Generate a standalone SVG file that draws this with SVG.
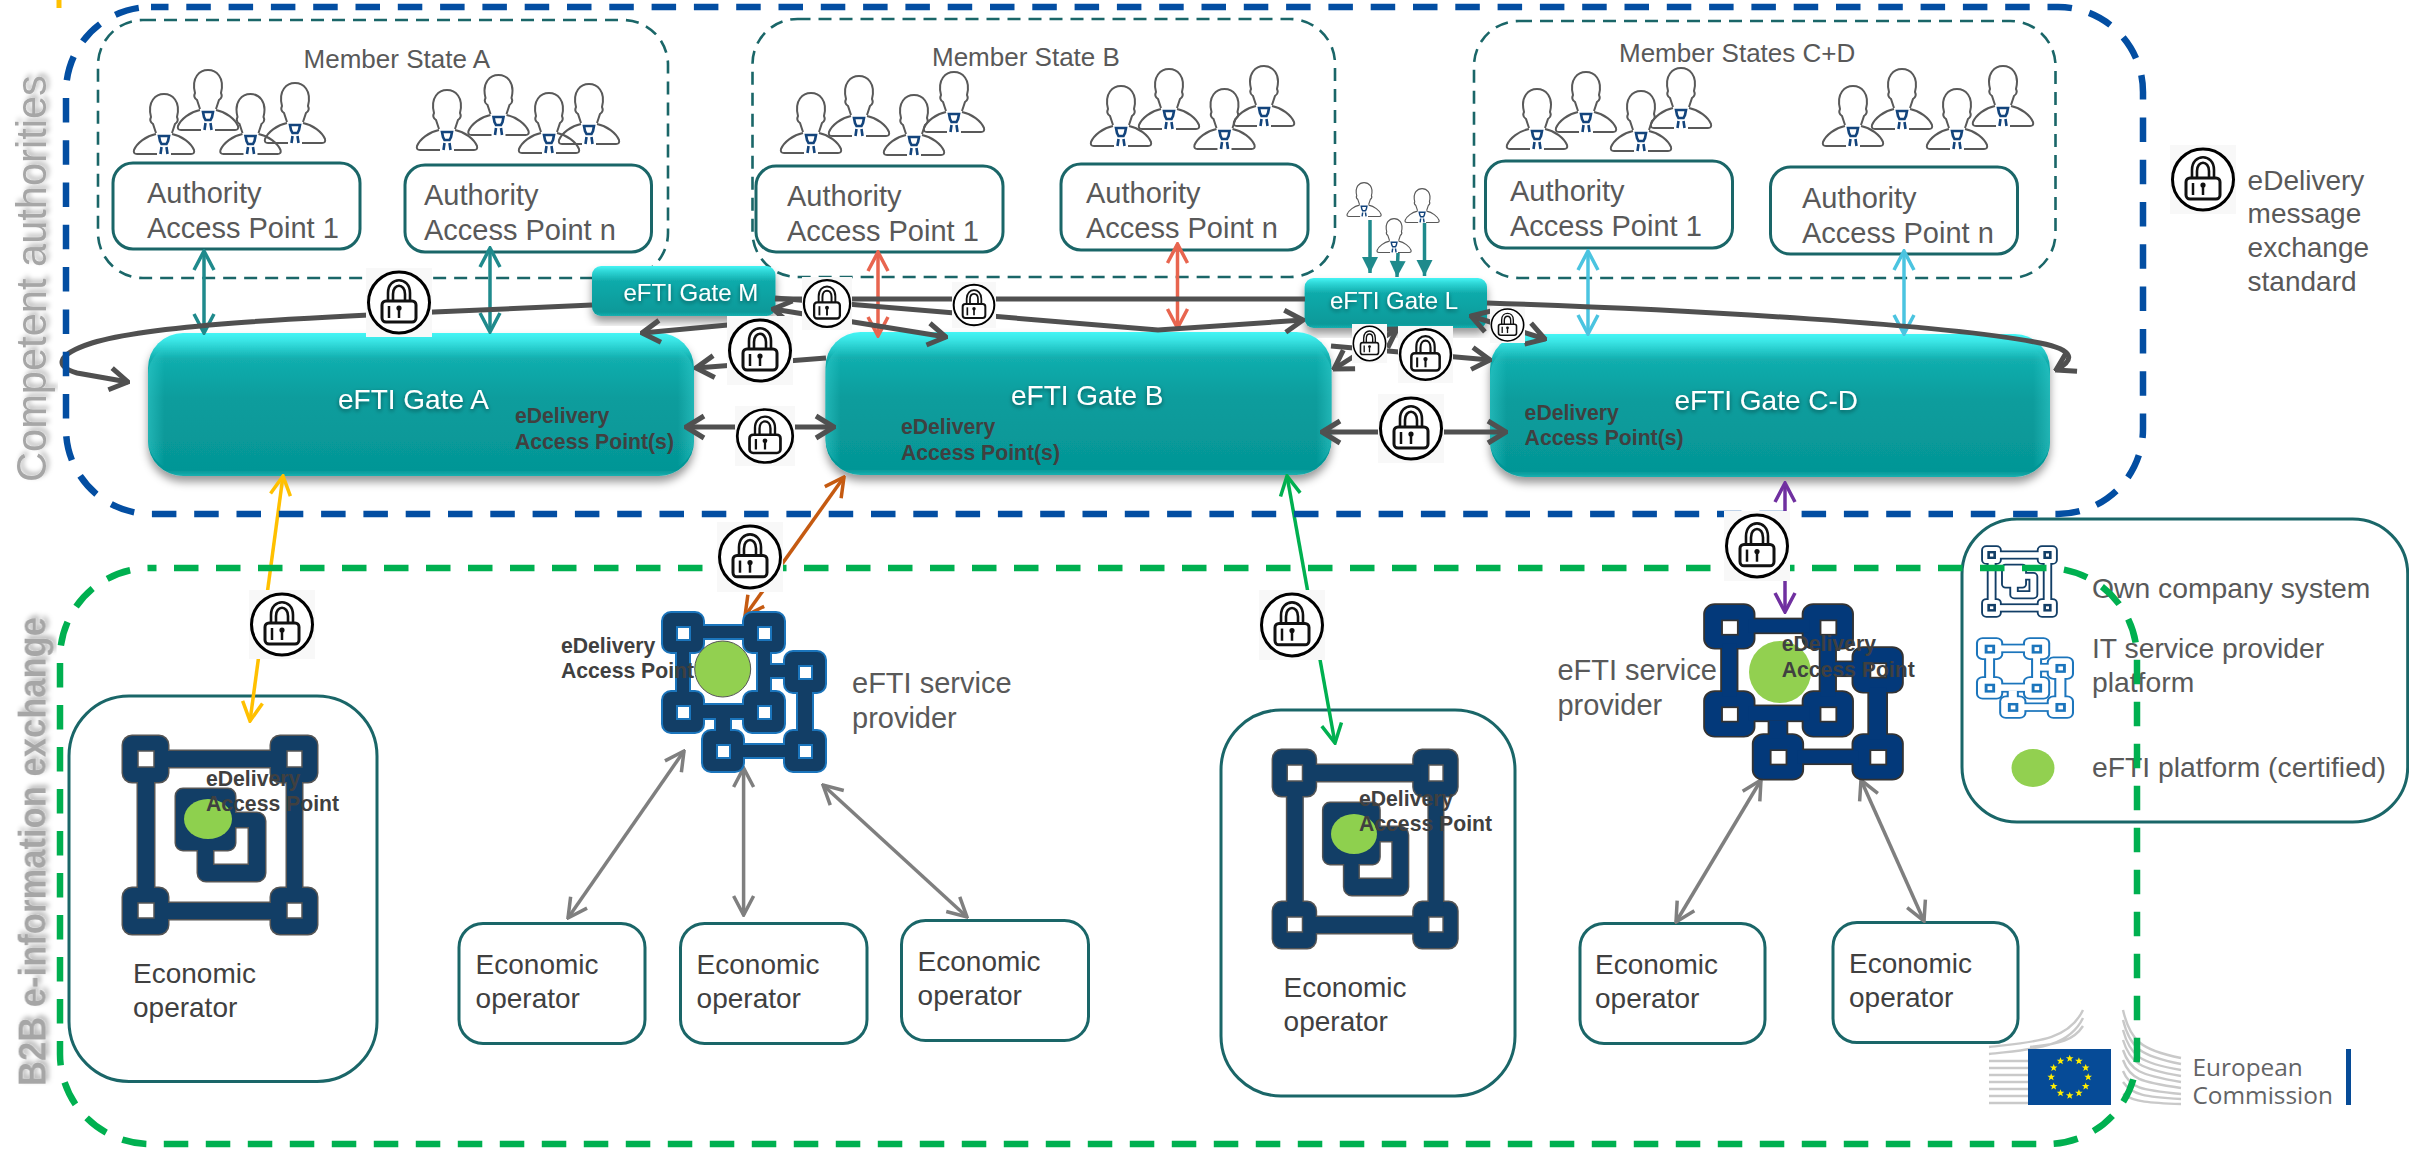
<svg xmlns="http://www.w3.org/2000/svg" xmlns:xlink="http://www.w3.org/1999/xlink" width="2409" height="1149" viewBox="0 0 2409 1149">
<style>
text{font-family:"Liberation Sans",Arial,sans-serif}
.t29{font-size:29px;fill:#595959}
.t28{font-size:28px;fill:#404040}
.t26{font-size:26px;fill:#595959}
.gl{font-size:28px;fill:#fff;filter:url(#ts)}
.gs{font-size:24px;fill:#fff;filter:url(#ts)}
.ap{font-size:21.2px;font-weight:bold;fill:#404040}
.ms{fill:none;stroke:#1a6668;stroke-width:2.6;stroke-dasharray:13 8}
.box{fill:#fff;stroke:#1a6668;stroke-width:3}
.bx0{fill:none;stroke:#1a6668;stroke-width:3}
.gate{fill:url(#gb);filter:url(#ds)}
.gsm{fill:url(#gn);filter:url(#ds)}
.side{fill:url(#gside)}
.c{fill:none}
.dk{stroke:#505050;stroke-width:5;marker-end:url(#mD)}
.dk2{stroke:#505050;stroke-width:5;marker-start:url(#mD);marker-end:url(#mD)}
.dk0{stroke:#505050;stroke-width:5}
.te{stroke:#1f8a8c;stroke-width:3.5;marker-start:url(#mT);marker-end:url(#mT)}
.re{stroke:#e8654f;stroke-width:3.5;marker-start:url(#mR);marker-end:url(#mR)}
.lb{stroke:#4bc4e0;stroke-width:3.5;marker-start:url(#mL);marker-end:url(#mL)}
.gr{stroke:#7f7f7f;stroke-width:3.5;marker-start:url(#mG);marker-end:url(#mG)}
.tf{stroke:#1f8a8c;stroke-width:3.5;marker-end:url(#mF)}
.s{fill:var(--o);stroke:var(--o);stroke-width:var(--w)}
.f{fill:var(--f);stroke:none}
.h{fill:#fff;stroke:var(--hc);stroke-width:var(--hw)}
.navy{--o:#555;--f:#123e66;--w:3;--hc:#555;--hw:1.5}
.prov{--o:#1b75bc;--f:#123e66;--w:4;--hc:#1b75bc;--hw:2}
.prov2{--o:#333;--f:#03397a;--w:3;--hc:#333;--hw:1.5}
.lgo{--o:#123e66;--f:#fff;--w:10;--hc:#123e66;--hw:7}
.lgp{--o:#1b75bc;--f:#fff;--w:7;--hc:#1b75bc;--hw:5}
.wing{fill:none;stroke:#c9c9c9;stroke-width:2.4}
</style>
<defs>
<linearGradient id="gb" x1="0" y1="0" x2="0" y2="1"><stop offset="0" stop-color="#45f5f5"/><stop offset=".05" stop-color="#3ae6e6"/><stop offset=".18" stop-color="#12aeae"/><stop offset=".45" stop-color="#0a9d9d"/><stop offset=".96" stop-color="#059696"/><stop offset="1" stop-color="#18b0b0"/></linearGradient>
<linearGradient id="gn" x1="0" y1="0" x2="0" y2="1"><stop offset="0" stop-color="#45f5f5"/><stop offset=".1" stop-color="#30d8d8"/><stop offset=".3" stop-color="#10abab"/><stop offset=".92" stop-color="#079999"/><stop offset="1" stop-color="#18b0b0"/></linearGradient>
<linearGradient id="gside" x1="0" y1="0" x2="1" y2="0"><stop offset="0" stop-color="#35cfcf" stop-opacity=".5"/><stop offset=".03" stop-color="#35cfcf" stop-opacity="0"/><stop offset=".97" stop-color="#35cfcf" stop-opacity="0"/><stop offset="1" stop-color="#35cfcf" stop-opacity=".5"/></linearGradient>
<filter id="ds" x="-5%" y="-10%" width="110%" height="130%"><feDropShadow dx="0" dy="6" stdDeviation="4" flood-color="#000" flood-opacity=".4"/></filter>
<filter id="ts" x="-10%" y="-30%" width="120%" height="170%"><feDropShadow dx="0" dy="2" stdDeviation="2" flood-color="#000" flood-opacity=".45"/></filter>
<filter id="gs" x="-5%" y="-5%" width="115%" height="110%"><feDropShadow dx="3" dy="3" stdDeviation="2.5" flood-color="#000" flood-opacity=".3"/></filter>
<marker id="mD" viewBox="-24 -14 26 28" refX="0" refY="0" markerWidth="26" markerHeight="28" markerUnits="userSpaceOnUse" orient="auto-start-reverse"><path d="M-18 -11L0 0L-18 11" fill="none" stroke="#505050" stroke-width="5"/></marker>
<marker id="mT" viewBox="-24 -14 26 28" refX="0" refY="0" markerWidth="26" markerHeight="28" markerUnits="userSpaceOnUse" orient="auto-start-reverse"><path d="M-19 -10L0 0L-19 10" fill="none" stroke="#1f8a8c" stroke-width="3.5"/></marker>
<marker id="mR" viewBox="-24 -14 26 28" refX="0" refY="0" markerWidth="26" markerHeight="28" markerUnits="userSpaceOnUse" orient="auto-start-reverse"><path d="M-19 -10L0 0L-19 10" fill="none" stroke="#e8654f" stroke-width="3.5"/></marker>
<marker id="mL" viewBox="-24 -14 26 28" refX="0" refY="0" markerWidth="26" markerHeight="28" markerUnits="userSpaceOnUse" orient="auto-start-reverse"><path d="M-19 -10L0 0L-19 10" fill="none" stroke="#4bc4e0" stroke-width="3.5"/></marker>
<marker id="mG" viewBox="-24 -14 26 28" refX="0" refY="0" markerWidth="26" markerHeight="28" markerUnits="userSpaceOnUse" orient="auto-start-reverse"><path d="M-19 -10L0 0L-19 10" fill="none" stroke="#7f7f7f" stroke-width="3.5"/></marker>
<marker id="mY" viewBox="-24 -14 26 28" refX="0" refY="0" markerWidth="26" markerHeight="28" markerUnits="userSpaceOnUse" orient="auto-start-reverse"><path d="M-19 -10L0 0L-19 10" fill="none" stroke="#ffc000" stroke-width="3.5"/></marker>
<marker id="mO" viewBox="-24 -14 26 28" refX="0" refY="0" markerWidth="26" markerHeight="28" markerUnits="userSpaceOnUse" orient="auto-start-reverse"><path d="M-19 -10L0 0L-19 10" fill="none" stroke="#c55a11" stroke-width="3.5"/></marker>
<marker id="mN" viewBox="-24 -14 26 28" refX="0" refY="0" markerWidth="26" markerHeight="28" markerUnits="userSpaceOnUse" orient="auto-start-reverse"><path d="M-19 -10L0 0L-19 10" fill="none" stroke="#00b050" stroke-width="3.5"/></marker>
<marker id="mP" viewBox="-24 -14 26 28" refX="0" refY="0" markerWidth="26" markerHeight="28" markerUnits="userSpaceOnUse" orient="auto-start-reverse"><path d="M-19 -10L0 0L-19 10" fill="none" stroke="#7030a0" stroke-width="3.5"/></marker>
<marker id="mF" viewBox="-18 -9 19 18" refX="0" refY="0" markerWidth="19" markerHeight="18" markerUnits="userSpaceOnUse" orient="auto"><path d="M-16 -8L0 0L-16 8Z" fill="#1f8a8c"/></marker>
<symbol id="lock" viewBox="0 0 66 69" preserveAspectRatio="none" overflow="visible">
<rect width="66" height="69" fill="#f8f8f8"/>
<ellipse cx="33" cy="34.5" rx="30.5" ry="30.5" fill="#fff" stroke="#000" stroke-width="3"/>
<path d="M22 33V25C22 8 44 8 44 25V33M27 33V26C27 15 39 15 39 26V33" fill="none" stroke="#111" stroke-width="2.6"/>
<rect x="16" y="33" width="34" height="21" rx="4" fill="#fff" stroke="#111" stroke-width="3"/>
<path d="M23 38V50" stroke="#111" stroke-width="2.5"/><circle cx="33" cy="40" r="2.6" fill="#111"/><path d="M33 40V50" stroke="#111" stroke-width="2.5"/>
</symbol>
<symbol id="person" viewBox="0 0 64 63" width="64" height="63" overflow="visible">
<path d="M24 40L21 31C18 29 18 26 19 24C15 8 24 1 32 1C40 1 49 8 45 24C46 26 46 29 43 31L40 40M24 41C14 43 5 50 2 57Q1 61 5 61L25 61M39 61L59 61Q63 61 62 57C59 50 50 43 40 41" fill="none" stroke="#595959" stroke-width="2"/>
<path d="M27 43H37L36 48L34.5 51H29.5L28 48ZM29.5 54L28.5 61M34.5 54L35.5 61" fill="none" stroke="#13447c" stroke-width="2.6"/>
</symbol>
<g id="own-b">
<rect x="0" y="0" width="45" height="46" rx="9"/><rect x="148" y="0" width="46" height="46" rx="9"/><rect x="0" y="152" width="45" height="46" rx="9"/><rect x="148" y="152" width="46" height="46" rx="9"/>
<rect x="40" y="15" width="115" height="16"/><rect x="40" y="167" width="115" height="16"/><rect x="15" y="40" width="16" height="118"/><rect x="164" y="40" width="15" height="118"/>
<path fill-rule="evenodd" d="M83 77H134A8 8 0 0 1 142 85V137A8 8 0 0 1 134 145H83A8 8 0 0 1 75 137V85A8 8 0 0 1 83 77ZM90 91V129H126V91Z"/>
<rect x="53" y="53" width="59" height="61" rx="7"/>
</g>
<g id="own-h"><rect x="15" y="15" width="16" height="16"/><rect x="164" y="15" width="15" height="16"/><rect x="15" y="167" width="16" height="15"/><rect x="164" y="167" width="15" height="15"/></g>
<g id="own"><use href="#own-b" class="s"/><use href="#own-b" class="f"/><use href="#own-h" class="h"/></g>
<g id="prov-b">
<rect x="0" y="0" width="40" height="39" rx="8"/><rect x="81" y="0" width="40" height="39" rx="8"/><rect x="0" y="79" width="40" height="40" rx="8"/><rect x="81" y="79" width="40" height="40" rx="8"/><rect x="122" y="39" width="40" height="40" rx="8"/><rect x="40" y="118" width="40" height="40" rx="8"/><rect x="122" y="118" width="40" height="40" rx="8"/>
<rect x="36" y="13" width="50" height="12"/><rect x="14" y="35" width="12" height="48"/><rect x="95" y="35" width="12" height="48"/><rect x="36" y="92" width="50" height="13"/><rect x="105" y="52" width="20" height="12"/><rect x="135" y="75" width="14" height="47"/><rect x="53" y="105" width="14" height="16"/><rect x="76" y="132" width="50" height="12"/>
</g>
<g id="prov-h"><rect x="14" y="14" width="13" height="13"/><rect x="95" y="14" width="13" height="13"/><rect x="14" y="93" width="13" height="13"/><rect x="95" y="93" width="13" height="13"/><rect x="136" y="53" width="13" height="13"/><rect x="54" y="132" width="13" height="13"/><rect x="136" y="132" width="13" height="13"/></g>
<g id="provider"><use href="#prov-b" class="s"/><use href="#prov-b" class="f"/><use href="#prov-h" class="h"/></g>
<polygon id="star" points="0,-3.8 1,-1.2 3.8,-1.2 1.6,0.5 2.4,3.3 0,1.7 -2.4,3.3 -1.6,0.5 -3.8,-1.2 -1,-1.2" fill="#ffed00"/>
</defs>

<rect width="2409" height="1149" fill="#fff"/>
<path d="M59 0V8" stroke="#ffc000" stroke-width="5"/>

<text transform="translate(46 482) rotate(-90)" font-size="41.6" fill="#a6a6a6" filter="url(#gs)">Competent authorities</text>
<text transform="translate(45.6 1086) rotate(-90)" font-size="38" font-weight="bold" fill="#a6a6a6" filter="url(#gs)" textLength="469" lengthAdjust="spacingAndGlyphs">B2B e-information exchange</text>

<g id="member-state-a">
<rect class="ms" x="98" y="20" width="570" height="258" rx="45"/>
<text class="t26" x="303.6" y="68">Member State A</text>
<use href="#person" x="132" y="93"/><use href="#person" x="176" y="69"/><use href="#person" x="218.5" y="93"/><use href="#person" x="263" y="82"/>
<use href="#person" x="415" y="89"/><use href="#person" x="466.5" y="74"/><use href="#person" x="517" y="92"/><use href="#person" x="557" y="83"/>
</g>
<g id="member-state-b">
<rect class="ms" x="752.5" y="19" width="582.5" height="258" rx="45"/>
<text class="t26" x="932" y="66">Member State B</text>
<use href="#person" x="779" y="92"/><use href="#person" x="827" y="75"/><use href="#person" x="882" y="94"/><use href="#person" x="922" y="71"/>
<use href="#person" x="1089" y="85"/><use href="#person" x="1137" y="68"/><use href="#person" x="1192.5" y="88"/><use href="#person" x="1232" y="65"/>
</g>
<g id="member-states-cd">
<rect class="ms" x="1474" y="21" width="581.5" height="257" rx="45"/>
<text class="t26" x="1619" y="62">Member States C+D</text>
<use href="#person" x="1505" y="88"/><use href="#person" x="1554" y="71"/><use href="#person" x="1609" y="90"/><use href="#person" x="1649" y="67"/>
<use href="#person" x="1821" y="85"/><use href="#person" x="1870" y="68"/><use href="#person" x="1925" y="88"/><use href="#person" x="1971" y="65"/>
</g>
<g id="ap-a1"><rect class="box" x="113" y="163" width="247" height="86" rx="20"/><text class="t29" x="147" y="203">Authority</text><text class="t29" x="147" y="238">Access Point 1</text></g>
<g id="ap-an"><rect class="box" x="405" y="165" width="246.5" height="87" rx="20"/><text class="t29" x="424" y="205">Authority</text><text class="t29" x="424" y="240">Access Point n</text></g>
<g id="ap-b1"><rect class="box" x="756" y="166" width="247" height="86" rx="20"/><text class="t29" x="787" y="206">Authority</text><text class="t29" x="787" y="241">Access Point 1</text></g>
<g id="ap-bn"><rect class="box" x="1061" y="164" width="247" height="86" rx="20"/><text class="t29" x="1086" y="203">Authority</text><text class="t29" x="1086" y="238">Access Point n</text></g>
<g id="ap-c1"><rect class="box" x="1485.5" y="161" width="247" height="87" rx="20"/><text class="t29" x="1510" y="201">Authority</text><text class="t29" x="1510" y="236">Access Point 1</text></g>
<g id="ap-cn"><rect class="box" x="1770.5" y="167" width="247" height="87" rx="20"/><text class="t29" x="1802" y="208">Authority</text><text class="t29" x="1802" y="243">Access Point n</text></g>

<g id="gate-m"><rect class="gsm" x="592" y="266" width="183.5" height="50" rx="9"/></g>
<g id="gate-l"><rect class="gsm" x="1304.6" y="278" width="182.4" height="50" rx="9"/></g>
<g id="gate-a"><rect class="gate" x="148" y="333" width="546" height="143" rx="35"/><rect class="side" x="148" y="345" width="546" height="125" rx="30"/></g>
<g id="gate-b"><rect class="gate" x="825.5" y="332" width="506" height="143" rx="35"/><rect class="side" x="825.5" y="344" width="506" height="125" rx="30"/></g>
<g id="gate-cd"><rect class="gate" x="1490" y="334" width="560" height="143" rx="35"/><rect class="side" x="1490" y="346" width="560" height="125" rx="30"/></g>

<g id="small-persons">
<use href="#person" transform="translate(1346 182) scale(.565)"/>
<use href="#person" transform="translate(1376 218) scale(.565)"/>
<use href="#person" transform="translate(1404 188) scale(.565)"/>
</g>

<g id="own-system-1"><rect class="bx0" x="69" y="696" width="308" height="385.5" rx="60"/>
<use href="#own" class="navy" transform="translate(123 736)"/><ellipse cx="208" cy="819" rx="24" ry="20" fill="#8ed04e"/>
<text class="t28" x="133" y="983">Economic</text><text class="t28" x="133" y="1016.5">operator</text></g>
<g id="own-system-2"><rect class="bx0" x="1221" y="710" width="294" height="386" rx="60"/>
<use href="#own" class="navy" transform="translate(1273 750) scale(.95 1)"/><ellipse cx="1354" cy="834" rx="23" ry="20" fill="#8ed04e"/>
<text class="t28" x="1283.6" y="997">Economic</text><text class="t28" x="1283.6" y="1031">operator</text></g>
<g id="eo-1"><rect class="bx0" x="459" y="923.4" width="186" height="120" rx="24"/><text class="t28" x="475.6" y="974">Economic</text><text class="t28" x="475.6" y="1008">operator</text></g>
<g id="eo-2"><rect class="bx0" x="680.5" y="923.4" width="186.5" height="120" rx="24"/><text class="t28" x="696.6" y="974">Economic</text><text class="t28" x="696.6" y="1008">operator</text></g>
<g id="eo-3"><rect class="bx0" x="901.5" y="920.5" width="187" height="120" rx="24"/><text class="t28" x="917.6" y="971">Economic</text><text class="t28" x="917.6" y="1005">operator</text></g>
<g id="eo-4"><rect class="bx0" x="1580" y="923.4" width="185" height="120" rx="24"/><text class="t28" x="1595" y="974">Economic</text><text class="t28" x="1595" y="1008">operator</text></g>
<g id="eo-5"><rect class="bx0" x="1833" y="922.6" width="185" height="120" rx="24"/><text class="t28" x="1849" y="973">Economic</text><text class="t28" x="1849" y="1007">operator</text></g>

<g id="logo">
<path class="wing" d="M1989 1047C2030 1042 2068 1042 2083 1010M1989 1054C2030 1049 2068 1049 2083 1018M1989 1061H2030M1989 1068H2030M1989 1075H2030M1989 1082H2030M1989 1089H2030M1989 1096H2030M1989 1103H2030M2030 1047C2060 1044 2074 1040 2083 1026"/>
<path class="wing" d="M2123 1010C2130 1040 2140 1050 2181 1058M2123 1020C2130 1048 2140 1056 2181 1064M2123 1030C2130 1056 2140 1063 2181 1070M2123 1040C2130 1063 2140 1069 2181 1076M2123 1050C2130 1071 2140 1075 2181 1082M2123 1060C2130 1079 2140 1082 2181 1088M2123 1071C2130 1088 2140 1090 2181 1094M2123 1082C2132 1095 2145 1097 2181 1099M2123 1094C2134 1102 2150 1103 2181 1104"/>
<rect x="2028" y="1049" width="83" height="56" fill="#064b97"/>
<g transform="translate(2069.7 1077)">
<use href="#star" x="0" y="-18.5"/><use href="#star" x="9.2" y="-16"/><use href="#star" x="16" y="-9.2"/><use href="#star" x="18.5" y="0"/><use href="#star" x="16" y="9.2"/><use href="#star" x="9.2" y="16"/><use href="#star" x="0" y="18.5"/><use href="#star" x="-9.2" y="16"/><use href="#star" x="-16" y="9.2"/><use href="#star" x="-18.5" y="0"/><use href="#star" x="-16" y="-9.2"/><use href="#star" x="-9.2" y="-16"/>
</g>
<text x="2192.5" y="1075.7" font-size="24.4" fill="#636466" style="font-family:'Open Sans',sans-serif">European</text>
<text x="2192.5" y="1104" font-size="24.4" fill="#636466" style="font-family:'Open Sans',sans-serif">Commission</text>
<rect x="2346" y="1049" width="5" height="56" fill="#064b97"/>
</g>

<g id="connectors" class="c">
<path class="te" d="M204 251V333"/>
<path class="te" d="M490 248V332"/>
<path class="re" d="M878 252V336"/>
<path class="re" d="M1177.5 244V328"/>
<path class="lb" d="M1588 251V334"/>
<path class="lb" d="M1904 251V334"/>
<path class="tf" d="M1370 220V273"/>
<path class="tf" d="M1398 253L1397 277"/>
<path class="tf" d="M1424.5 223V276"/>
<path class="dk" d="M592 305L434 312C300 318 150 325 92 343C55 355 55 367 77 373L128 382"/>
<path class="dk0" d="M775 299H1305"/>
<path class="dk" d="M775 298L1158 330L1303 320"/>
<path class="dk2" d="M773 309L946 337"/>
<path class="dk" d="M760 322L642 333"/>
<path class="dk" d="M826 358L696 368"/>
<path class="dk2" d="M686 427H834"/>
<path class="dk" d="M1331 346L1490 360"/>
<path class="dk2" d="M1334 369L1397 329"/>
<path class="dk2" d="M1322 432H1506"/>
<path class="dk2" d="M1471 316L1545 339"/>
<path class="dk" d="M1487 303C1700 310 1950 325 2040 343C2075 350 2075 360 2056 370"/>
<path stroke="#ffc000" stroke-width="3.5" marker-start="url(#mY)" marker-end="url(#mY)" d="M283 476L250 721"/>
<path stroke="#c55a11" stroke-width="3.5" marker-start="url(#mO)" marker-end="url(#mO)" d="M844 477L745 616"/>
<path stroke="#00b050" stroke-width="3.5" marker-start="url(#mN)" marker-end="url(#mN)" d="M1287 476L1335 743"/>
<path stroke="#7030a0" stroke-width="3.5" marker-start="url(#mP)" marker-end="url(#mP)" d="M1785 483V612"/>
<path class="gr" d="M684 751L568 918"/>
<path class="gr" d="M743.6 768V915"/>
<path class="gr" d="M823 785L967 917"/>
<path class="gr" d="M1761 780L1676 922"/>
<path class="gr" d="M1861 780L1924 921"/>
</g>

<g id="service-provider-1">
<use href="#provider" class="prov" transform="translate(663 613)"/>
<ellipse cx="722.7" cy="669" rx="28" ry="28" fill="#92d050" stroke="#555" stroke-width="1"/>
<text class="t29" x="852" y="692.5">eFTI service</text><text class="t29" x="852" y="727.6">provider</text>
</g>
<g id="service-provider-2">
<use href="#provider" class="prov2" transform="translate(1705 605) scale(1.216 1.1)"/>
<ellipse cx="1780" cy="672" rx="31" ry="31" fill="#92d050"/>
<text class="t29" x="1557.4" y="680">eFTI service</text><text class="t29" x="1557.4" y="715">provider</text>
</g>

<g id="legend">
<rect class="bx0" x="1962" y="519" width="445.7" height="303" rx="55"/>
<use href="#own" class="lgo" transform="translate(1983 547) scale(.376 .348)"/>
<use href="#provider" class="lgp" transform="translate(1978 639) scale(.58 .494)"/>
<ellipse cx="2033" cy="768" rx="21.5" ry="19" fill="#92d050"/>
<text class="t29" x="2092" y="598" style="font-size:28.3px">Own company system</text>
<text class="t29" x="2092" y="658" style="font-size:28.3px">IT service provider</text>
<text class="t29" x="2092" y="692" style="font-size:28.3px">platform</text>
<text class="t29" x="2092" y="777" style="font-size:28.3px">eFTI platform (certified)</text>
</g>

<g id="frames" fill="none">
<rect x="60" y="568" width="2077" height="576" rx="90" stroke="#00b050" stroke-width="6.5" stroke-dasharray="24.5 17.5" stroke-dashoffset="18"/>
<rect x="66" y="7" width="2077" height="507" rx="85" stroke="#034ea2" stroke-width="6.5" stroke-dasharray="24.5 17.8" stroke-dashoffset="7"/>
</g>

<g id="gate-labels">
<text class="gs" x="623.5" y="301">eFTI Gate M</text>
<text class="gs" x="1330" y="309">eFTI Gate L</text>
<text class="gl" x="338" y="409">eFTI Gate A</text>
<text class="gl" x="1011" y="405">eFTI Gate B</text>
<text class="gl" x="1674.5" y="410">eFTI Gate C-D</text>
</g>
<g id="edelivery-labels">
<text class="ap" x="515" y="423">eDelivery</text><text class="ap" x="515" y="449">Access Point(s)</text>
<text class="ap" x="901" y="434">eDelivery</text><text class="ap" x="901" y="460">Access Point(s)</text>
<text class="ap" x="1524.6" y="420">eDelivery</text><text class="ap" x="1524.6" y="445">Access Point(s)</text>
<text class="ap" x="561" y="653">eDelivery</text><text class="ap" x="561" y="678">Access Point</text>
<text class="ap" x="206" y="786">eDelivery</text><text class="ap" x="206" y="811">Access Point</text>
<text class="ap" x="1359" y="805.5">eDelivery</text><text class="ap" x="1359" y="831">Access Point</text>
<text class="ap" x="1781.7" y="651">eDelivery</text><text class="ap" x="1781.7" y="677">Access Point</text>
</g>

<g id="locks">
<use href="#lock" x="366" y="268" width="66" height="69"/>
<use href="#lock" x="727" y="316" width="66" height="69"/>
<use href="#lock" x="735" y="406" width="60" height="60"/>
<use href="#lock" x="802" y="277" width="50" height="53"/>
<use href="#lock" x="952" y="282" width="44" height="46"/>
<use href="#lock" x="1352" y="324" width="35" height="39"/>
<use href="#lock" x="1398" y="326" width="55" height="57"/>
<use href="#lock" x="1490" y="307" width="35" height="36"/>
<use href="#lock" x="1378" y="394" width="66" height="69"/>
<use href="#lock" x="249" y="590" width="66" height="69"/>
<use href="#lock" x="717" y="522" width="66" height="70"/>
<use href="#lock" x="1259" y="590" width="66" height="70"/>
<use href="#lock" x="1724" y="511" width="66" height="70"/>
</g>
<g id="lock-legend">
<use href="#lock" x="2170" y="145" width="66" height="69"/>
<text class="t28" x="2247.6" y="190" style="fill:#595959">eDelivery</text>
<text class="t28" x="2247.6" y="223" style="fill:#595959">message</text>
<text class="t28" x="2247.6" y="257" style="fill:#595959">exchange</text>
<text class="t28" x="2247.6" y="291" style="fill:#595959">standard</text>
</g>
</svg>
